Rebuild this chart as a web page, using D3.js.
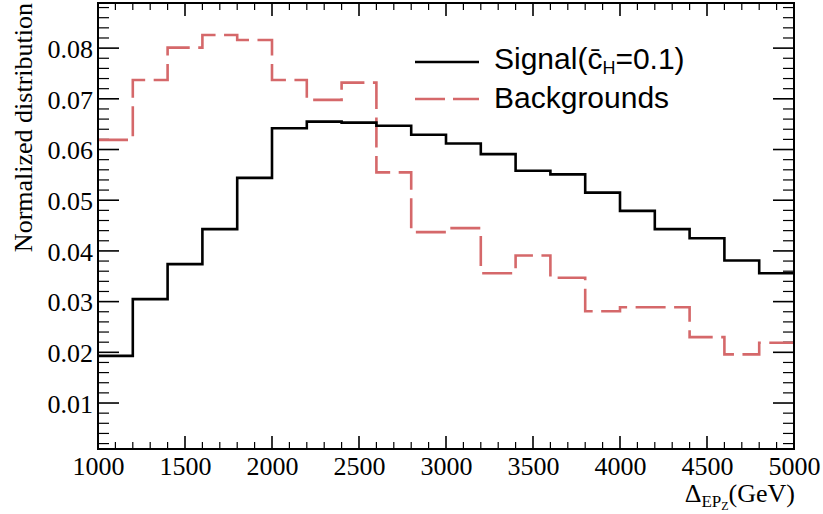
<!DOCTYPE html>
<html>
<head>
<meta charset="utf-8">
<script src="https://cdn.jsdelivr.net/npm/d3@7"></script>
<style>
  html, body { margin: 0; padding: 0; background: #fff; }
  svg { display: block; }
</style>
</head>
<body>
<svg id="chart" width="823" height="514"></svg>
<script>
// ---- data ----
const binEdges = [1000, 1200, 1400, 1600, 1800, 2000, 2200, 2400, 2600, 2800, 3000,
                  3200, 3400, 3600, 3800, 4000, 4200, 4400, 4600, 4800, 5000];
const signalValues = [0.0193, 0.0305, 0.0374, 0.0443, 0.0544, 0.0642, 0.0655, 0.0653, 0.0647, 0.0629,
                      0.0612, 0.0591, 0.0558, 0.0551, 0.0515, 0.0479, 0.0443, 0.0425, 0.0381, 0.0356];
const backgroundValues = [0.0619, 0.0737, 0.0801, 0.0826, 0.0816, 0.0737, 0.0698, 0.0732, 0.0555, 0.0437,
                          0.0445, 0.0356, 0.0391, 0.0347, 0.0281, 0.0289, 0.0289, 0.0230, 0.0196, 0.0219];
const xTickValues = [1000, 1500, 2000, 2500, 3000, 3500, 4000, 4500, 5000];
const yTickValues = [0.01, 0.02, 0.03, 0.04, 0.05, 0.06, 0.07, 0.08];
const xTitle = ["\u0394", "EP", "Z", "(GeV)"];
const yTitle = "Normalized distribution";
const legendLabels = ["Signal", "Backgrounds"];

(function () {
// ---- layout ----
const mLeft = 98, mRight = 794, mTop = 3, mBottom = 449;
const serif = "'Liberation Serif', 'Times New Roman', serif";
const sans = "'Liberation Sans', Arial, Helvetica, sans-serif";
const red = "#d5686a";

const svg = d3.select("#chart");
const x = d3.scaleLinear().domain([1000, 5000]).range([mLeft, mRight]);
const y = d3.scaleLinear().domain([0.00093, 0.0889]).range([mBottom, mTop]);

const xMinor = d3.range(1000, 5001, 100);
const yMinor = d3.range(1, 45).map(i => i * 0.002).filter(v => v < 0.0889);

// ---- ticks on all four sides ----
const g = svg.append("g").attr("stroke", "#000").attr("fill", "none");
xMinor.forEach(v => {
  const major = xTickValues.includes(v);
  const len = major ? 13 : 7;
  const sw = major ? 1.6 : 1.2;
  g.append("line").attr("x1", x(v)).attr("x2", x(v)).attr("y1", mBottom).attr("y2", mBottom - len).attr("stroke-width", sw);
  g.append("line").attr("x1", x(v)).attr("x2", x(v)).attr("y1", mTop).attr("y2", mTop + len).attr("stroke-width", sw);
});
yMinor.forEach(v => {
  const major = yTickValues.some(t => Math.abs(t - v) < 1e-9);
  const len = major ? 21 : 11;
  const sw = major ? 1.6 : 1.2;
  g.append("line").attr("y1", y(v)).attr("y2", y(v)).attr("x1", mLeft).attr("x2", mLeft + len).attr("stroke-width", sw);
  g.append("line").attr("y1", y(v)).attr("y2", y(v)).attr("x1", mRight).attr("x2", mRight - len).attr("stroke-width", sw);
});

// tick labels via d3 axes
const xAxis = d3.axisBottom(x).tickValues(xTickValues).tickSize(0).tickPadding(0).tickFormat(d3.format("d"));
const gx = svg.append("g").attr("transform", `translate(0,${mBottom})`).call(xAxis);
gx.select(".domain").remove();
gx.selectAll("text").attr("font-family", serif).attr("font-size", 26).attr("fill", "#000")
  .attr("dy", null).attr("y", 26);

const yAxis = d3.axisLeft(y).tickValues(yTickValues).tickSize(0).tickPadding(0).tickFormat(d3.format(".2f"));
const gy = svg.append("g").attr("transform", `translate(${mLeft},0)`).call(yAxis);
gy.select(".domain").remove();
gy.selectAll("text").attr("font-family", serif).attr("font-size", 26).attr("fill", "#000")
  .attr("x", -5).attr("dy", "0.36em");

// ---- histograms ----
function stepPath(values) {
  const pts = [];
  values.forEach((v, i) => {
    pts.push([x(binEdges[i]), y(v)]);
    pts.push([x(binEdges[i + 1]), y(v)]);
  });
  return d3.line()(pts);
}

svg.append("path").attr("d", stepPath(backgroundValues))
  .attr("fill", "none").attr("stroke", red).attr("stroke-width", 2.6)
  .attr("stroke-dasharray", "30 8.5").attr("stroke-linejoin", "miter");

svg.append("path").attr("d", stepPath(signalValues))
  .attr("fill", "none").attr("stroke", "#000").attr("stroke-width", 2.6)
  .attr("stroke-linejoin", "miter");

// ---- frame ----
svg.append("rect").attr("x", mLeft).attr("y", mTop).attr("width", mRight - mLeft).attr("height", mBottom - mTop)
  .attr("fill", "none").attr("stroke", "#000").attr("stroke-width", 2);

// ---- legend ----
const leg = svg.append("g");
leg.append("line").attr("x1", 415).attr("x2", 479).attr("y1", 62).attr("y2", 62)
  .attr("stroke", "#000").attr("stroke-width", 2.6);
leg.append("line").attr("x1", 415).attr("x2", 479).attr("y1", 99).attr("y2", 99)
  .attr("stroke", red).attr("stroke-width", 2.6).attr("stroke-dasharray", "30 8");

const t1 = leg.append("text").attr("x", 494).attr("y", 68.5)
  .attr("font-family", sans).attr("font-size", 30).attr("fill", "#000");
t1.append("tspan").text(legendLabels[0] + "(c\u0304");
t1.append("tspan").attr("font-size", 18).attr("dy", 5).text("H");
t1.append("tspan").attr("dy", -5).text("=0.1)");

leg.append("text").attr("x", 494).attr("y", 107.5)
  .attr("font-family", sans).attr("font-size", 30).attr("fill", "#000")
  .text(legendLabels[1]);

// ---- axis titles ----
const xt = svg.append("text").attr("x", 795).attr("y", 502).attr("text-anchor", "end")
  .attr("font-family", serif).attr("font-size", 26).attr("fill", "#000");
xt.append("tspan").text(xTitle[0]);
xt.append("tspan").attr("font-size", 17).attr("dy", 5).text(xTitle[1]);
xt.append("tspan").attr("font-size", 12).attr("dy", 3).text(xTitle[2]);
xt.append("tspan").attr("dy", -8).text(xTitle[3]);

svg.append("text").attr("transform", "translate(31.5,3) rotate(-90)").attr("text-anchor", "end")
  .attr("font-family", serif).attr("font-size", 26).attr("fill", "#000").text(yTitle);
})();
</script>
</body>
</html>
